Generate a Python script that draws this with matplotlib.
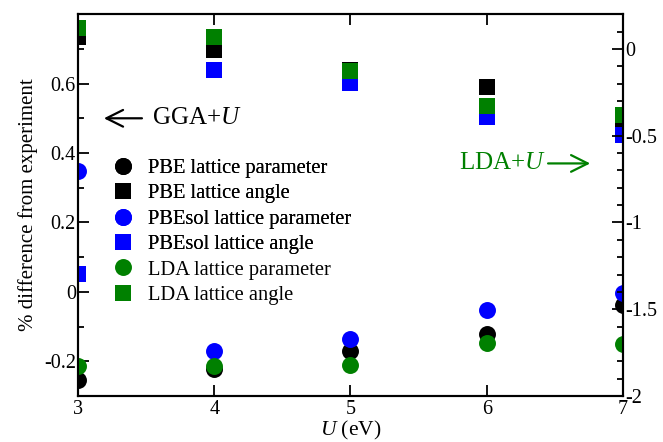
import matplotlib
matplotlib.use("Agg")
import matplotlib.pyplot as plt
from matplotlib.ticker import MultipleLocator, FuncFormatter

plt.rcParams['font.family'] = ['Liberation Serif', 'DejaVu Serif']
plt.rcParams['axes.unicode_minus'] = False
plt.rcParams['mathtext.fontset'] = 'custom'
plt.rcParams['mathtext.it'] = 'Liberation Serif:italic'
plt.rcParams['mathtext.rm'] = 'Liberation Serif'

# U values (eV)
U = [3, 4, 5, 6, 7]

# GGA+U results, left axis
pbe_param = [-0.254, -0.221, -0.169, -0.121, -0.038]
pbe_angle = [0.734, 0.698, 0.638, 0.591, 0.488]
pbesol_param = [0.348, -0.169, -0.136, -0.051, -0.004]
pbesol_angle = [0.052, 0.640, 0.601, 0.503, 0.451]

# LDA+U results, right axis
lda_param = [-1.828, -1.828, -1.822, -1.697, -1.701]
lda_angle = [0.119, 0.071, -0.127, -0.327, -0.379]

fig = plt.figure(figsize=(6.63, 4.42), dpi=100)
ax = fig.add_axes([0.1176, 0.104, 0.822, 0.864])
ax2 = ax.twinx()

ms_c, ms_s = 12.2, 11
kw = dict(linestyle='none', markeredgewidth=0)
h1, = ax.plot(U, pbe_param, 'o', color='black', ms=ms_c, label='PBE lattice parameter', **kw)
h2, = ax.plot(U, pbe_angle, 's', color='black', ms=ms_s, label='PBE lattice angle', **kw)
h3, = ax.plot(U, pbesol_param, 'o', color='blue', ms=ms_c, label='PBEsol lattice parameter', **kw)
h4, = ax.plot(U, pbesol_angle, 's', color='blue', ms=ms_s, label='PBEsol lattice angle', **kw)
h5, = ax2.plot(U, lda_param, 'o', color='green', ms=ms_c, label='LDA lattice parameter', **kw)
h6, = ax2.plot(U, lda_angle, 's', color='green', ms=ms_s, label='LDA lattice angle', **kw)

ax.set_xlim(3, 7)
ax.set_ylim(-0.3, 0.8)
ax2.set_ylim(-2, 0.2)

# no labels at the top corners
fmt_l = FuncFormatter(lambda v, p: '' if v > 0.75 else '%g' % round(v, 3))
fmt_r = FuncFormatter(lambda v, p: '' if v > 0.15 else '%g' % round(v, 3))
ax.xaxis.set_major_locator(MultipleLocator(1))
ax.yaxis.set_major_locator(MultipleLocator(0.2))
ax.yaxis.set_minor_locator(MultipleLocator(0.1))
ax.yaxis.set_major_formatter(fmt_l)
ax2.yaxis.set_major_locator(MultipleLocator(0.5))
ax2.yaxis.set_minor_locator(MultipleLocator(0.1))
ax2.yaxis.set_major_formatter(fmt_r)

ax.tick_params(axis='x', which='major', direction='in', top=True, bottom=True,
               length=7.7, width=1.3, labelsize=14.5, pad=3)
ax.tick_params(axis='y', which='major', direction='in', left=True, right=False,
               length=7.7, width=1.3, labelsize=14.5, pad=1.5)
ax.tick_params(axis='y', which='minor', direction='in', left=True, right=False,
               length=4.3, width=1.3)
ax2.tick_params(axis='y', which='major', direction='in', right=True, left=False,
                length=7.7, width=1.3, labelsize=14.5, pad=2)
ax2.tick_params(axis='y', which='minor', direction='in', right=True, left=False,
                length=4.3, width=1.3)
for a in (ax, ax2):
    for s in a.spines.values():
        s.set_linewidth(1.5)

ax.set_xlabel('$U$ (eV)', fontsize=15.5, labelpad=0)
ax.set_ylabel('% difference from experiment', fontsize=15, labelpad=4)

# arrows pointing to each axis
ax.annotate('', xy=(3.17, 0.5), xytext=(3.49, 0.5),
            arrowprops=dict(arrowstyle='->', lw=1.6, color='black', mutation_scale=30))
ax.text(3.54, 0.5, 'GGA+$U$', fontsize=18, va='center', ha='left', color='black')
ax.text(5.80, 0.37, 'LDA+$U$', fontsize=18, va='center', ha='left', color='green')
ax.annotate('', xy=(6.78, 0.37), xytext=(6.43, 0.37),
            arrowprops=dict(arrowstyle='->', lw=1.6, color='green', mutation_scale=30))

leg_kw = dict(loc='upper left', frameon=False, fontsize=14.8, handlelength=1.4,
              handletextpad=0.5, labelspacing=0.3, borderaxespad=0)
leg1 = ax.legend(handles=[h1, h2, h3, h4], bbox_to_anchor=(0.042, 0.644), **leg_kw)
ax.add_artist(leg1)
leg2 = ax2.legend(handles=[h5, h6], bbox_to_anchor=(0.042, 0.377), **leg_kw)

fig.savefig('out.png', dpi=100)
